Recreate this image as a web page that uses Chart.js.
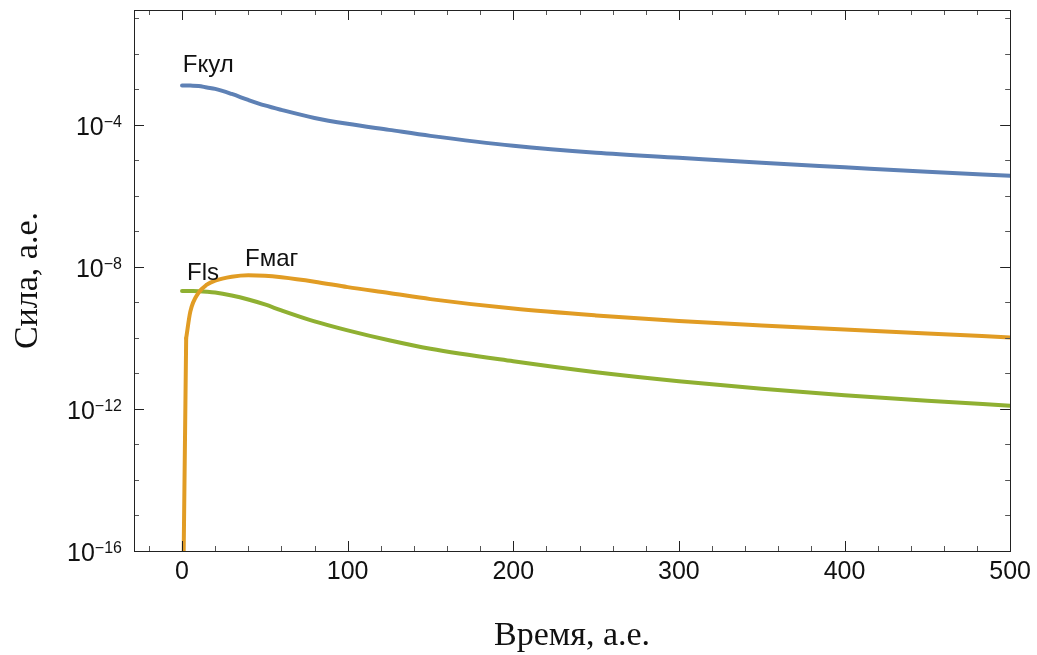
<!DOCTYPE html>
<html>
<head>
<meta charset="utf-8">
<script src="https://cdn.jsdelivr.net/npm/chart.js@4.4.0/dist/chart.umd.min.js"></script>
<style>
  html, body { margin: 0; padding: 0; background: #fff; }
  #wrap { width: 1037px; height: 655px; }
</style>
</head>
<body>
<div id="wrap"><canvas id="chart" width="1037" height="655"></canvas></div>
<script>
// время, а.е.
const times = [0, 2.5, 5, 10, 15, 20, 30, 40, 50, 60, 80, 100, 125, 150, 200, 250, 300, 350, 400, 450, 500];

// силы, а.е.
const fCoulomb = [1.29e-3, 1.29e-3, 1.28e-3, 1.25e-3, 1.13e-3, 1.03e-3, 7.43e-4, 5.04e-4, 3.53e-4, 2.64e-4, 1.57e-4,
                  1.07e-4, 7.24e-5, 4.91e-5, 2.57e-5, 1.63e-5, 1.18e-5, 8.57e-6, 6.40e-6, 4.79e-6, 3.69e-6];
const fMag = [1e-20, 9.8e-11, 5.5e-10, 1.88e-9, 3.16e-9, 4.1e-9, 5.3e-9, 5.85e-9, 5.66e-9, 5.13e-9, 3.85e-9,
              2.7e-9, 1.84e-9, 1.24e-9, 6.7e-10, 4.3e-10, 3.0e-10, 2.25e-10, 1.73e-10, 1.34e-10, 1.03e-10];
const fLs = [2.10e-9, 2.10e-9, 2.09e-9, 2.07e-9, 2.01e-9, 1.91e-9, 1.57e-9, 1.21e-9, 8.79e-10, 5.96e-10, 2.92e-10,
             1.63e-10, 8.57e-11, 4.94e-11, 2.20e-11, 1.08e-11, 6.04e-12, 3.72e-12, 2.44e-12, 1.71e-12, 1.24e-12];

// подписи кривых: текст и точка привязки (в координатах данных)
const curveLabels = ['Fкул', 'Fмаг', 'Fls'];
const curveLabelX = [0.5, 38, 3];
const curveLabelY = [3.16e-3, 1.03e-8, 4.36e-9];

// деления осей
const xMajorTicks = [0, 100, 200, 300, 400, 500];
const xMinorTicks = [-20, 20, 40, 60, 80, 120, 140, 160, 180, 220, 240, 260, 280, 320, 340, 360, 380, 420, 440, 460, 480];
const yMajorTicks = [1e-16, 1e-12, 1e-8, 1e-4];
const yMinorTicks = [1e-15, 1e-14, 1e-13, 1e-11, 1e-10, 1e-9, 1e-7, 1e-6, 1e-5, 1e-3, 1e-2, 1e-1];

const toPoints = arr => times.map((t, i) => ({ x: t, y: arr[i] }));
// Fмаг: вертикальный подъём при t≈0 рисуем отдельным отрезком, чтобы сохранить излом
const magPoints = toPoints(fMag);

// рамка, внутренние засечки, подписи 10^n и подписи кривых
const frameTicks = {
    id: 'frameTicks',
    afterDraw(chart) {
        const { ctx, chartArea: a, scales: { x, y } } = chart;
        ctx.save();
        ctx.lineWidth = 1;

        const tick = (px, len, color, vertical) => {
            const p = Math.round(px) + 0.5;
            ctx.strokeStyle = color;
            ctx.beginPath();
            if (vertical) {
                ctx.moveTo(p, a.bottom); ctx.lineTo(p, a.bottom - len);
                ctx.moveTo(p, a.top); ctx.lineTo(p, a.top + len);
            } else {
                ctx.moveTo(a.left, p); ctx.lineTo(a.left + len, p);
                ctx.moveTo(a.right, p); ctx.lineTo(a.right - len, p);
            }
            ctx.stroke();
        };
        xMajorTicks.forEach(v => tick(x.getPixelForValue(v), 10, '#222', true));
        xMinorTicks.forEach(v => tick(x.getPixelForValue(v), 5, '#555', true));
        yMajorTicks.forEach(v => tick(y.getPixelForValue(v), 10, '#222', false));
        yMinorTicks.forEach(v => tick(y.getPixelForValue(v), 5, '#555', false));

        ctx.strokeStyle = '#222';
        ctx.strokeRect(Math.round(a.left) + 0.5, Math.round(a.top) + 0.5,
                       Math.round(a.right - a.left), Math.round(a.bottom - a.top));

        // подписи оси Y: 10 и показатель степени
        ctx.fillStyle = '#111';
        ctx.textBaseline = 'alphabetic';
        ctx.textAlign = 'left';
        const baseFont = '25px "Liberation Sans", Arial, sans-serif';
        const supFont = '16px "Liberation Sans", Arial, sans-serif';
        yMajorTicks.forEach(v => {
            const py = y.getPixelForValue(v);
            const exp = '\u2212' + Math.round(-Math.log10(v));
            ctx.font = supFont;
            const wExp = ctx.measureText(exp).width;
            ctx.font = baseFont;
            const wBase = ctx.measureText('10').width;
            const right = a.left - 12;
            const base = py + 10;
            ctx.fillText('10', right - wExp - wBase, base);
            ctx.font = supFont;
            ctx.fillText(exp, right - wExp, base - 8);
        });

        ctx.font = '24px "Liberation Sans", Arial, sans-serif';
        curveLabels.forEach((txt, i) => {
            ctx.fillText(txt, x.getPixelForValue(curveLabelX[i]), y.getPixelForValue(curveLabelY[i]));
        });
        ctx.restore();
    }
};

new Chart(document.getElementById('chart'), {
    type: 'line',
    data: {
        datasets: [
            { label: 'Fкул', data: toPoints(fCoulomb), borderColor: '#5E81B5' },
            { label: 'Fмаг', data: magPoints.slice(1), borderColor: '#E19C24' },
            { label: 'Fмаг (t≈0)', data: magPoints.slice(0, 2), borderColor: '#E19C24', cubicInterpolationMode: 'default', tension: 0 },
            { label: 'Fls', data: toPoints(fLs), borderColor: '#8FB032' }
        ]
    },
    options: {
        responsive: false,
        animation: false,
        devicePixelRatio: 1,
        layout: { padding: { left: 0, right: 25, top: 10, bottom: 0 } },
        elements: {
            point: { radius: 0 },
            line: { borderWidth: 4, cubicInterpolationMode: 'monotone', fill: false, borderCapStyle: 'round' }
        },
        plugins: { legend: { display: false }, tooltip: { enabled: false } },
        scales: {
            x: {
                type: 'linear',
                min: -29,
                max: 500,
                grid: { display: false, drawTicks: false },
                border: { display: false },
                afterBuildTicks: s => { s.ticks = xMajorTicks.map(v => ({ value: v })); },
                afterFit: s => { s.height = 104; s.paddingLeft = 0; },
                ticks: {
                    autoSkip: false,
                    maxRotation: 0,
                    padding: 6,
                    color: '#111',
                    font: { family: '"Liberation Sans", Arial, sans-serif', size: 25 },
                    callback: v => String(v)
                },
                title: {
                    display: true,
                    text: 'Время, а.е.',
                    color: '#111',
                    padding: { top: 0, bottom: 0 },
                    font: { family: '"Liberation Serif", "Times New Roman", serif', size: 34, lineHeight: 1.1 }
                }
            },
            y: {
                type: 'logarithmic',
                min: 1e-16,
                max: 0.172,
                grid: { display: false, drawTicks: false },
                border: { display: false },
                afterBuildTicks: s => { s.ticks = yMajorTicks.map(v => ({ value: v })); },
                afterFit: s => { s.width = 134; s.paddingTop = 0; s.paddingBottom = 0; },
                ticks: { display: false },
                title: {
                    display: true,
                    text: 'Сила, а.е.',
                    color: '#111',
                    padding: { top: 8, bottom: 0 },
                    font: { family: '"Liberation Serif", "Times New Roman", serif', size: 34 }
                }
            }
        }
    },
    plugins: [frameTicks]
});
</script>
</body>
</html>
